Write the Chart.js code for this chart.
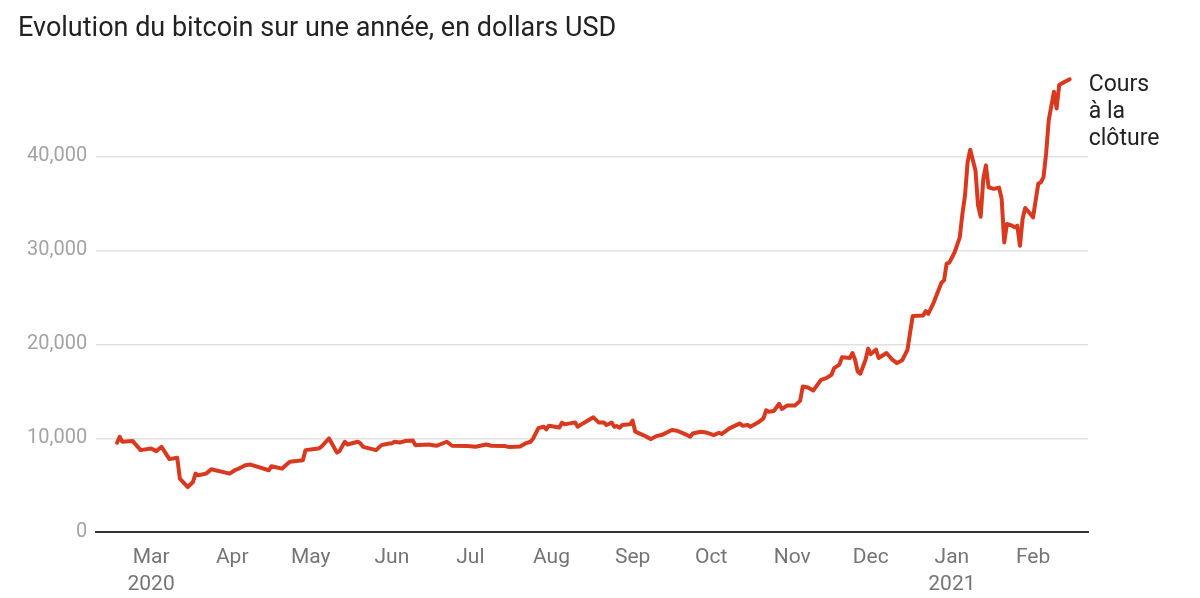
<!DOCTYPE html>
<html>
<head>
<meta charset="utf-8">
<script src="https://cdn.jsdelivr.net/npm/chart.js@4.4.1/dist/chart.umd.min.js"></script>
<style>
  html, body { margin: 0; padding: 0; background: #ffffff; }
  #wrap { position: relative; width: 1200px; height: 598px; }
</style>
</head>
<body>
<div id="wrap"><canvas id="c" width="1200" height="598"></canvas></div>
<script>
// Day offsets counted from 1 March 2020 (day 0)
const dayOffsets = [
  -13, -12, -11, -7, -4, 0, 2, 4, 7, 10, 11, 14, 16, 17, 18, 21, 23, 30, 32, 33,
  36, 38, 45, 46, 50, 53, 58, 59, 64, 65, 68, 71, 72, 74, 75, 79, 80, 81, 86, 88,
  91, 92, 93, 95, 97, 100, 101, 106, 109, 113, 115, 121, 124, 128, 130, 135, 137, 141, 143, 145,
  146, 148, 150, 151, 152, 156, 157, 158, 162, 163, 165, 169, 171, 173, 174, 176, 177, 178, 179, 180,
  183, 184, 185, 188, 191, 193, 195, 199, 201, 204, 206, 207, 210, 212, 215, 217, 218, 221, 225, 226,
  228, 229, 232, 234, 235, 236, 238, 240, 241, 243, 246, 248, 249, 251, 253, 256, 258, 260, 261, 263,
  264, 267, 268, 269, 270, 271, 273, 274, 275, 277, 278, 281, 283, 285, 287, 289, 291, 295, 296, 297,
  299, 302, 303, 304, 305, 307, 309, 310, 311, 312, 313, 315, 316, 317, 318, 319, 320, 322, 324, 325,
  326, 327, 329, 330, 331, 332, 333, 334, 336, 337, 339, 340, 341, 342, 343, 345, 346, 347, 348, 351
];
// Closing price, USD
const closes = [
  9520, 10160, 9630, 9700, 8740, 8910, 8630, 9090, 7780, 7920, 5700, 4810, 5350, 6240, 6060, 6240, 6710, 6240, 6600, 6710,
  7130, 7200, 6600, 7030, 6770, 7490, 7670, 8740, 8910, 9090, 9980, 8480, 8630, 9630, 9340, 9630, 9450, 9090, 8740, 9270,
  9450, 9450, 9630, 9550, 9700, 9770, 9270, 9340, 9200, 9630, 9200, 9170, 9090, 9340, 9200, 9170, 9060, 9130, 9450, 9630,
  9980, 11080, 11230, 10940, 11340, 11150, 11660, 11480, 11690, 11230, 11580, 12230, 11690, 11690, 11410, 11660, 11230, 11300, 11120, 11410,
  11480, 11870, 10700, 10340, 9910, 10230, 10340, 10880, 10800, 10450, 10160, 10510, 10700, 10620, 10340, 10590, 10450, 11050, 11580, 11340,
  11410, 11230, 11700, 12120, 12980, 12830, 12910, 13670, 13120, 13480, 13480, 13980, 15510, 15400, 15080, 16220, 16400, 16760, 17470, 17830,
  18610, 18540, 19070, 18360, 17110, 16870, 18360, 19540, 18960, 19430, 18540, 19070, 18430, 18000, 18300, 19400, 23000, 23070, 23530, 23250,
  24420, 26560, 26810, 28590, 28700, 29770, 31370, 33870, 35830, 39390, 40710, 38500, 34760, 33580, 37610, 39040, 36710, 36540, 36680, 35500,
  30840, 32800, 32620, 32440, 32620, 30480, 33340, 34510, 33870, 33510, 37080, 37250, 37790, 40290, 43850, 46880, 45100, 47590, 47770, 48200
];
const monthTicks = [0, 31, 61, 92, 122, 153, 184, 214, 245, 275, 306, 337];
const monthLabels = [['Mar', '2020'], 'Apr', 'May', 'Jun', 'Jul', 'Aug', 'Sep', 'Oct', 'Nov', 'Dec', ['Jan', '2021'], 'Feb'];
const yTicks = [0, 10000, 20000, 30000, 40000];
const titleText = 'Evolution du bitcoin sur une année, en dollars USD';
const seriesLabel = ['Cours', 'à la', 'clôture'];

const points = dayOffsets.map((d, i) => ({ x: d, y: closes[i] }));

const endLabel = {
  id: 'endLabel',
  afterDatasetsDraw(chart) {
    const meta = chart.getDatasetMeta(0);
    const last = meta.data[meta.data.length - 1];
    if (!last) return;
    const ctx = chart.ctx;
    ctx.save();
    ctx.font = '23px Roboto';
    ctx.fillStyle = '#222222';
    ctx.textAlign = 'left';
    ctx.textBaseline = 'middle';
    seriesLabel.forEach((t, i) => {
      ctx.fillText(t, last.x + 19, last.y + 6 + i * 27);
    });
    ctx.restore();
  }
};

new Chart(document.getElementById('c'), {
  type: 'line',
  data: {
    datasets: [{
      label: seriesLabel.join(' '),
      data: points,
      borderColor: '#d8391f',
      backgroundColor: '#d8391f',
      borderWidth: 4,
      pointRadius: 0,
      tension: 0,
      borderJoinStyle: 'round',
      borderCapStyle: 'round'
    }]
  },
  options: {
    responsive: false,
    animation: false,
    events: [],
    layout: { padding: { left: 18, right: 112, top: 0, bottom: -12 } },
    plugins: {
      legend: { display: false },
      tooltip: { enabled: false },
      title: {
        display: true,
        text: titleText,
        align: 'start',
        color: '#222222',
        font: { family: 'Roboto', size: 27, weight: 'normal', lineHeight: 1.2 },
        padding: { top: 13, bottom: 17 }
      }
    },
    scales: {
      x: {
        type: 'linear',
        min: -21,
        max: 358,
        afterBuildTicks(scale) { scale.ticks = monthTicks.map(v => ({ value: v })); },
        ticks: {
          autoSkip: false,
          maxRotation: 0,
          color: '#757575',
          padding: 12,
          font: { family: 'Roboto', size: 21, lineHeight: 1.28 },
          callback(value) {
            const i = monthTicks.indexOf(value);
            return i >= 0 ? monthLabels[i] : '';
          }
        },
        grid: { display: false, drawTicks: false },
        border: { display: true, color: '#333333', width: 2 }
      },
      y: {
        min: 0,
        max: 50000,
        afterBuildTicks(scale) { scale.ticks = yTicks.map(v => ({ value: v })); },
        ticks: {
          color: '#a3a3a3',
          padding: 9,
          font: { family: 'Roboto', size: 20 },
          callback(value) { return value.toLocaleString('en-US'); }
        },
        grid: {
          drawTicks: false,
          lineWidth: 1.5,
          color(ctx) { return ctx.tick && ctx.tick.value === 0 ? 'rgba(0,0,0,0)' : '#e2e2e2'; }
        },
        border: { display: false }
      }
    }
  },
  plugins: [endLabel]
});
</script>
</body>
</html>
